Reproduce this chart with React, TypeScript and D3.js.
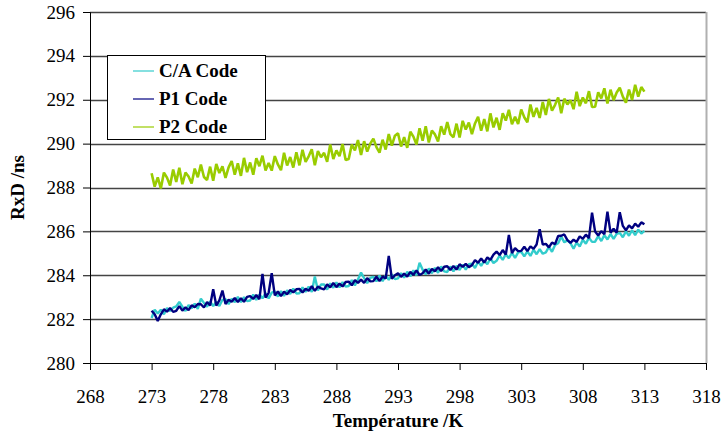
import React, { useEffect, useRef } from "react";
import * as d3 from "d3";

// sampled temperatures (K)
const temperatures = [
  273, 273.25, 273.5, 273.75, 274, 274.25, 274.5, 274.75,
  275, 275.25, 275.5, 275.75, 276, 276.25, 276.5, 276.75,
  277, 277.25, 277.5, 277.75, 278, 278.25, 278.5, 278.75,
  279, 279.25, 279.5, 279.75, 280, 280.25, 280.5, 280.75,
  281, 281.25, 281.5, 281.75, 282, 282.25, 282.5, 282.75,
  283, 283.25, 283.5, 283.75, 284, 284.25, 284.5, 284.75,
  285, 285.25, 285.5, 285.75, 286, 286.25, 286.5, 286.75,
  287, 287.25, 287.5, 287.75, 288, 288.25, 288.5, 288.75,
  289, 289.25, 289.5, 289.75, 290, 290.25, 290.5, 290.75,
  291, 291.25, 291.5, 291.75, 292, 292.25, 292.5, 292.75,
  293, 293.25, 293.5, 293.75, 294, 294.25, 294.5, 294.75,
  295, 295.25, 295.5, 295.75, 296, 296.25, 296.5, 296.75,
  297, 297.25, 297.5, 297.75, 298, 298.25, 298.5, 298.75,
  299, 299.25, 299.5, 299.75, 300, 300.25, 300.5, 300.75,
  301, 301.25, 301.5, 301.75, 302, 302.25, 302.5, 302.75,
  303, 303.25, 303.5, 303.75, 304, 304.25, 304.5, 304.75,
  305, 305.25, 305.5, 305.75, 306, 306.25, 306.5, 306.75,
  307, 307.25, 307.5, 307.75, 308, 308.25, 308.5, 308.75,
  309, 309.25, 309.5, 309.75, 310, 310.25, 310.5, 310.75,
  311, 311.25, 311.5, 311.75, 312, 312.25, 312.5, 312.75,
  313,
];

// RxD (ns) for each code
const caCode = [
  282.05, 282.43, 282.26, 282.43, 282.22, 282.5, 282.37, 282.52,
  282.58, 282.78, 282.57, 282.37, 282.64, 282.49, 282.71, 282.47,
  282.93, 282.74, 282.57, 282.81, 282.59, 282.8, 282.6, 282.88,
  282.91, 282.68, 282.93, 282.77, 283.01, 282.77, 283.0, 282.82,
  282.85, 283.12, 282.88, 283.12, 282.95, 283.19, 282.94, 283.21,
  283.26, 283.03, 283.28, 283.06, 283.31, 283.15, 283.39, 283.17,
  283.18, 283.45, 283.24, 283.48, 283.24, 283.94, 283.31, 283.58,
  283.58, 283.35, 283.63, 283.43, 283.68, 283.45, 283.69, 283.48,
  283.51, 283.78, 283.54, 283.81, 284.12, 283.87, 283.64, 283.88,
  283.93, 283.72, 283.98, 283.73, 283.99, 283.79, 284.04, 283.82,
  283.86, 284.1, 283.89, 284.16, 283.95, 284.22, 284.0, 284.57,
  284.25, 284.04, 284.31, 284.09, 284.34, 284.11, 284.4, 284.18,
  284.15, 284.4, 284.18, 284.43, 284.24, 284.49, 284.25, 284.5,
  284.53, 284.33, 284.62, 284.43, 284.67, 284.5, 284.77, 284.56,
  284.66, 284.9, 284.7, 284.96, 284.78, 285.02, 284.79, 285.04,
  285.07, 284.86, 285.09, 284.88, 285.16, 284.96, 285.19, 284.98,
  285.04, 285.29, 285.07, 285.38, 285.46, 285.76, 285.5, 285.59,
  285.46, 285.21, 285.49, 285.31, 285.62, 285.44, 285.71, 285.52,
  285.53, 285.78, 285.56, 285.83, 285.63, 285.88, 285.66, 285.89,
  285.93, 285.73, 286.0, 285.8, 286.05, 285.83, 286.08, 285.9,
  286.02,
];

const p1Code = [
  282.38, 282.22, 281.92, 282.22, 282.45, 282.34, 282.51, 282.33,
  282.38, 282.59, 282.39, 282.54, 282.41, 282.63, 282.54, 282.69,
  282.68, 282.53, 282.78, 282.62, 283.36, 282.62, 282.85, 283.3,
  282.69, 282.88, 282.79, 282.96, 282.78, 282.95, 282.79, 283.01,
  283.05, 282.92, 283.1, 282.91, 284.06, 282.98, 283.2, 284.09,
  283.08, 283.26, 283.05, 283.25, 283.13, 283.33, 283.22, 283.36,
  283.38, 283.22, 283.38, 283.29, 283.5, 283.29, 283.48, 283.4,
  283.36, 283.58, 283.45, 283.65, 283.46, 283.62, 283.49, 283.69,
  283.71, 283.54, 283.78, 283.65, 283.8, 283.65, 283.87, 283.72,
  283.73, 283.93, 283.74, 283.94, 283.85, 284.88, 283.84, 284.0,
  284.09, 283.93, 284.07, 283.94, 284.15, 284.02, 284.22, 284.01,
  284.09, 284.26, 284.07, 284.29, 284.18, 284.36, 284.19, 284.39,
  284.41, 284.24, 284.42, 284.26, 284.5, 284.38, 284.52, 284.37,
  284.46, 284.69, 284.57, 284.76, 284.58, 284.81, 284.7, 284.94,
  285.08, 284.92, 285.15, 284.94, 285.84, 285.01, 285.24, 285.1,
  285.11, 285.3, 285.1, 285.32, 285.2, 285.4, 286.1, 285.4,
  285.43, 285.27, 285.49, 285.42, 285.79, 285.8, 285.86, 285.6,
  285.48, 285.62, 285.52, 285.77, 285.66, 285.85, 285.69, 286.85,
  285.99, 285.81, 286.01, 285.87, 286.9, 285.94, 286.12, 285.94,
  286.87, 286.25, 286.05, 286.27, 286.14, 286.35, 286.21, 286.41,
  286.32,
];

const p2Code = [
  288.65, 288.04, 288.46, 287.96, 288.68, 288.45, 288.09, 288.82,
  288.25, 288.9, 288.15, 288.68, 288.5, 288.18, 288.86, 288.47,
  289.04, 288.48, 288.34, 288.95, 288.31, 289.07, 288.66, 288.97,
  288.44, 288.92, 289.21, 288.58, 289.1, 288.53, 289.35, 288.7,
  289.14, 288.58, 289.33, 288.97, 289.45, 288.78, 289.12, 288.77,
  289.43, 289.05, 288.79, 289.58, 289.0, 289.39, 288.91, 289.61,
  289.01, 289.72, 289.17, 289.42, 289.74, 289.01, 289.66, 289.38,
  289.58, 289.17, 289.96, 289.3, 289.69, 289.43, 289.98, 289.25,
  289.3, 289.96, 289.69, 290.16, 289.48, 290.11, 289.64, 290.0,
  290.23, 289.84, 289.59, 290.18, 289.73, 290.44, 289.91, 290.36,
  290.47, 289.87, 290.3, 289.81, 290.54, 290.32, 289.96, 290.7,
  290.13, 290.79, 290.05, 290.59, 290.42, 290.1, 290.79, 290.41,
  290.98, 290.43, 290.29, 290.91, 290.28, 291.04, 290.64, 290.96,
  290.43, 290.92, 291.22, 290.59, 291.12, 290.56, 291.38, 290.74,
  291.18, 290.63, 291.39, 291.05, 291.54, 290.88, 291.23, 290.9,
  291.56, 291.2, 290.97, 291.78, 291.22, 291.63, 291.17, 291.9,
  291.31, 292.04, 291.5, 291.77, 292.1, 291.39, 292.05, 291.79,
  291.98, 291.57, 292.36, 291.71, 292.1, 291.84, 292.39, 291.67,
  291.68, 292.34, 292.06, 292.52, 291.83, 292.46, 291.98, 292.33,
  292.55, 292.14, 291.87, 292.46, 291.99, 292.68, 292.14, 292.58,
  292.37,
];

const seriesNames = ["C/A Code", "P1 Code", "P2 Code"];
const seriesColors = ["#33CCCC", "#000080", "#99CC00"];
const xTicks = [268, 273, 278, 283, 288, 293, 298, 303, 308, 313, 318];
const yTicks = [280, 282, 284, 286, 288, 290, 292, 294, 296];

export default function App() {
  const ref = useRef<SVGSVGElement | null>(null);

  useEffect(() => {
    const left = 90, right = 706, top = 12, bottom = 363;
    const font = "'Liberation Serif', serif";

    const svg = d3.select(ref.current);
    svg.selectAll("*").remove();

    const x = d3.scaleLinear().domain([268, 318]).range([left, right]);
    const y = d3.scaleLinear().domain([280, 296]).range([bottom, top]);

    // horizontal gridlines
    svg.append("g")
      .selectAll("line")
      .data(yTicks.slice(1))
      .enter()
      .append("line")
      .attr("x1", left)
      .attr("x2", right)
      .attr("y1", d => Math.round(y(d)) + 0.5)
      .attr("y2", d => Math.round(y(d)) + 0.5)
      .attr("stroke", "#444")
      .attr("stroke-width", 1.4);

    // right border
    svg.append("line")
      .attr("x1", right + 0.5).attr("x2", right + 0.5)
      .attr("y1", top).attr("y2", bottom)
      .attr("stroke", "#b0b0b0")
      .attr("stroke-width", 2);

    // noisy traces, thick enough that the jitter reads as a solid band
    const widths = [2.4, 2.4, 2.6];
    const allSeries = [caCode, p1Code, p2Code];
    allSeries.forEach((values, i) => {
      const pts = temperatures.map((t, j) => [t, values[j]] as [number, number]);
      svg.append("path")
        .datum(pts)
        .attr("d", d3.line<[number, number]>().x(d => x(d[0])).y(d => y(d[1])))
        .attr("fill", "none")
        .attr("stroke", seriesColors[i])
        .attr("stroke-width", widths[i])
        .attr("stroke-linejoin", "bevel");
    });

    // y axis
    const yAxis = svg.append("g")
      .attr("transform", `translate(${left},0)`)
      .call(d3.axisLeft(y).tickValues(yTicks).tickSize(7).tickPadding(8).tickFormat(d3.format("d")));
    yAxis.attr("font-family", null).attr("font-size", null);
    yAxis.select(".domain").attr("stroke", "#000");
    yAxis.selectAll("text").attr("fill", "#000")
      .style("font-family", font).style("font-size", "19px");

    // x axis
    const xAxis = svg.append("g")
      .attr("transform", `translate(0,${bottom})`)
      .call(d3.axisBottom(x).tickValues(xTicks).tickSize(7).tickPadding(20).tickFormat(d3.format("d")));
    xAxis.attr("font-family", null).attr("font-size", null);
    xAxis.selectAll("text").attr("fill", "#000")
      .style("font-family", font).style("font-size", "19px");

    // axis titles
    svg.append("text")
      .attr("x", (left + right) / 2)
      .attr("y", 427)
      .attr("text-anchor", "middle")
      .style("font-family", font)
      .style("font-size", "19px")
      .style("font-weight", "bold")
      .text("Température /K");

    svg.append("text")
      .attr("transform", `translate(24, ${(top + bottom) / 2}) rotate(-90)`)
      .attr("text-anchor", "middle")
      .style("font-family", font)
      .style("font-size", "19px")
      .style("font-weight", "bold")
      .text("RxD /ns");

    // legend
    const legend = svg.append("g");
    legend.append("rect")
      .attr("x", 107.5).attr("y", 55.5)
      .attr("width", 158).attr("height", 84)
      .attr("fill", "#fff")
      .attr("stroke", "#000")
      .attr("stroke-width", 1);
    seriesNames.forEach((name, i) => {
      const ly = 71 + i * 28;
      legend.append("line")
        .attr("x1", 133).attr("x2", 154)
        .attr("y1", ly).attr("y2", ly)
        .attr("stroke", seriesColors[i])
        .attr("stroke-opacity", 0.6)
        .attr("stroke-width", 2);
      legend.append("text")
        .attr("x", 159)
        .attr("y", ly)
        .attr("dy", "0.34em")
        .style("font-family", font)
        .style("font-size", "19px")
        .style("font-weight", "bold")
        .text(name);
    });
  }, []);

  return (
    <svg
      ref={ref}
      width={722}
      height={434}
      style={{ position: "absolute", left: 0, top: 0, background: "#fff", fontFamily: "'Liberation Serif', serif" }}
    />
  );
}
